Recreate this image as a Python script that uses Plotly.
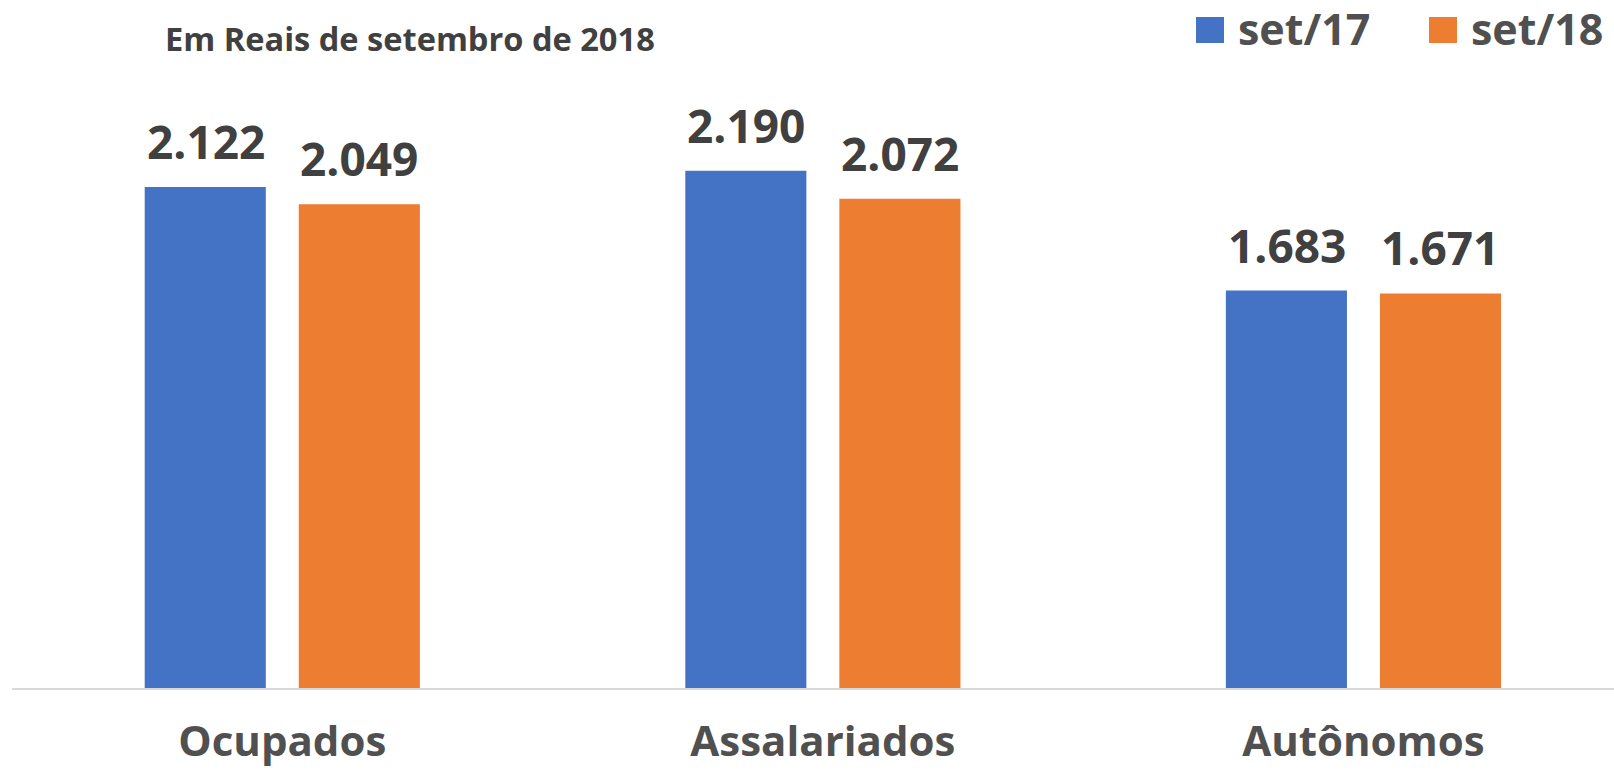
import plotly.graph_objects as go

categories = ["Ocupados", "Assalariados", "Autônomos"]
series_names = ["set/17", "set/18"]
set17 = [2122, 2190, 1683]
set18 = [2049, 2072, 1671]
value_labels17 = ["2.122", "2.190", "1.683"]
value_labels18 = ["2.049", "2.072", "1.671"]
subtitle = "Em Reais de setembro de 2018"

colors = ["#4472C4", "#ED7D31"]
FONT = "Open Sans"
TXT = "#404040"

W, H = 1614, 771
ML, MR, MT, MB = 12, 0, 100, 83
pw = W - ML - MR
ph = H - MT - MB


def px_x(px):
    return (px - ML) / pw


def px_y(py):
    return (H - MB - py) / ph


fig = go.Figure()
for name, vals, col in zip(series_names, [set17, set18], colors):
    fig.add_trace(go.Bar(x=categories, y=vals, name=name, marker_color=col,
                         marker_line_width=0, showlegend=False, hoverinfo="skip"))

# value labels
off = 76.7
for vals, labs, sh in [(set17, value_labels17, -off), (set18, value_labels18, off)]:
    for c, v, t in zip(categories, vals, labs):
        fig.add_annotation(x=c, y=v, text=f"<b>{t}</b>", showarrow=False,
                           xshift=sh, yshift=13, yanchor="bottom",
                           font=dict(family=FONT, size=46, color=TXT))

# subtitle
fig.add_annotation(x=px_x(163), y=px_y(38), xref="paper", yref="paper",
                   text=f"<b>{subtitle}</b>", showarrow=False,
                   xanchor="left", yanchor="middle",
                   font=dict(family=FONT, size=32.6, color=TXT))

# manual legend
legend_x = [1196, 1429]
for name, col, lx in zip(series_names, colors, legend_x):
    fig.add_shape(type="rect", xref="paper", yref="paper",
                  x0=px_x(lx), x1=px_x(lx + 28),
                  y0=px_y(43), y1=px_y(17),
                  fillcolor=col, line_width=0)
    fig.add_annotation(xref="paper", yref="paper", x=px_x(lx + 40),
                       y=px_y(29), text=f"<b>{name}</b>", showarrow=False,
                       xanchor="left", yanchor="middle",
                       font=dict(family=FONT, size=43, color="#505050"))

fig.update_layout(
    width=W, height=H,
    margin=dict(l=ML, r=MR, t=MT, b=MB, autoexpand=False),
    paper_bgcolor="white", plot_bgcolor="white",
    barmode="group", bargap=0.430, bargroupgap=0.214,
    xaxis=dict(range=[-0.5, 2.4635], showgrid=False, showline=True,
               linecolor="#D9D9D9", linewidth=2, ticks="", automargin=False,
               tickvals=categories,
               ticktext=[f"<b>{c}</b>" for c in categories],
               tickfont=dict(family=FONT, size=42, color="#505050"),
               ticklabelstandoff=16),
    yaxis=dict(range=[0, 2490], visible=False, automargin=False),
)

fig.write_html("out.html", config={"displayModeBar": False},
               post_script="document.body.style.margin='0';document.body.style.padding='0';")
